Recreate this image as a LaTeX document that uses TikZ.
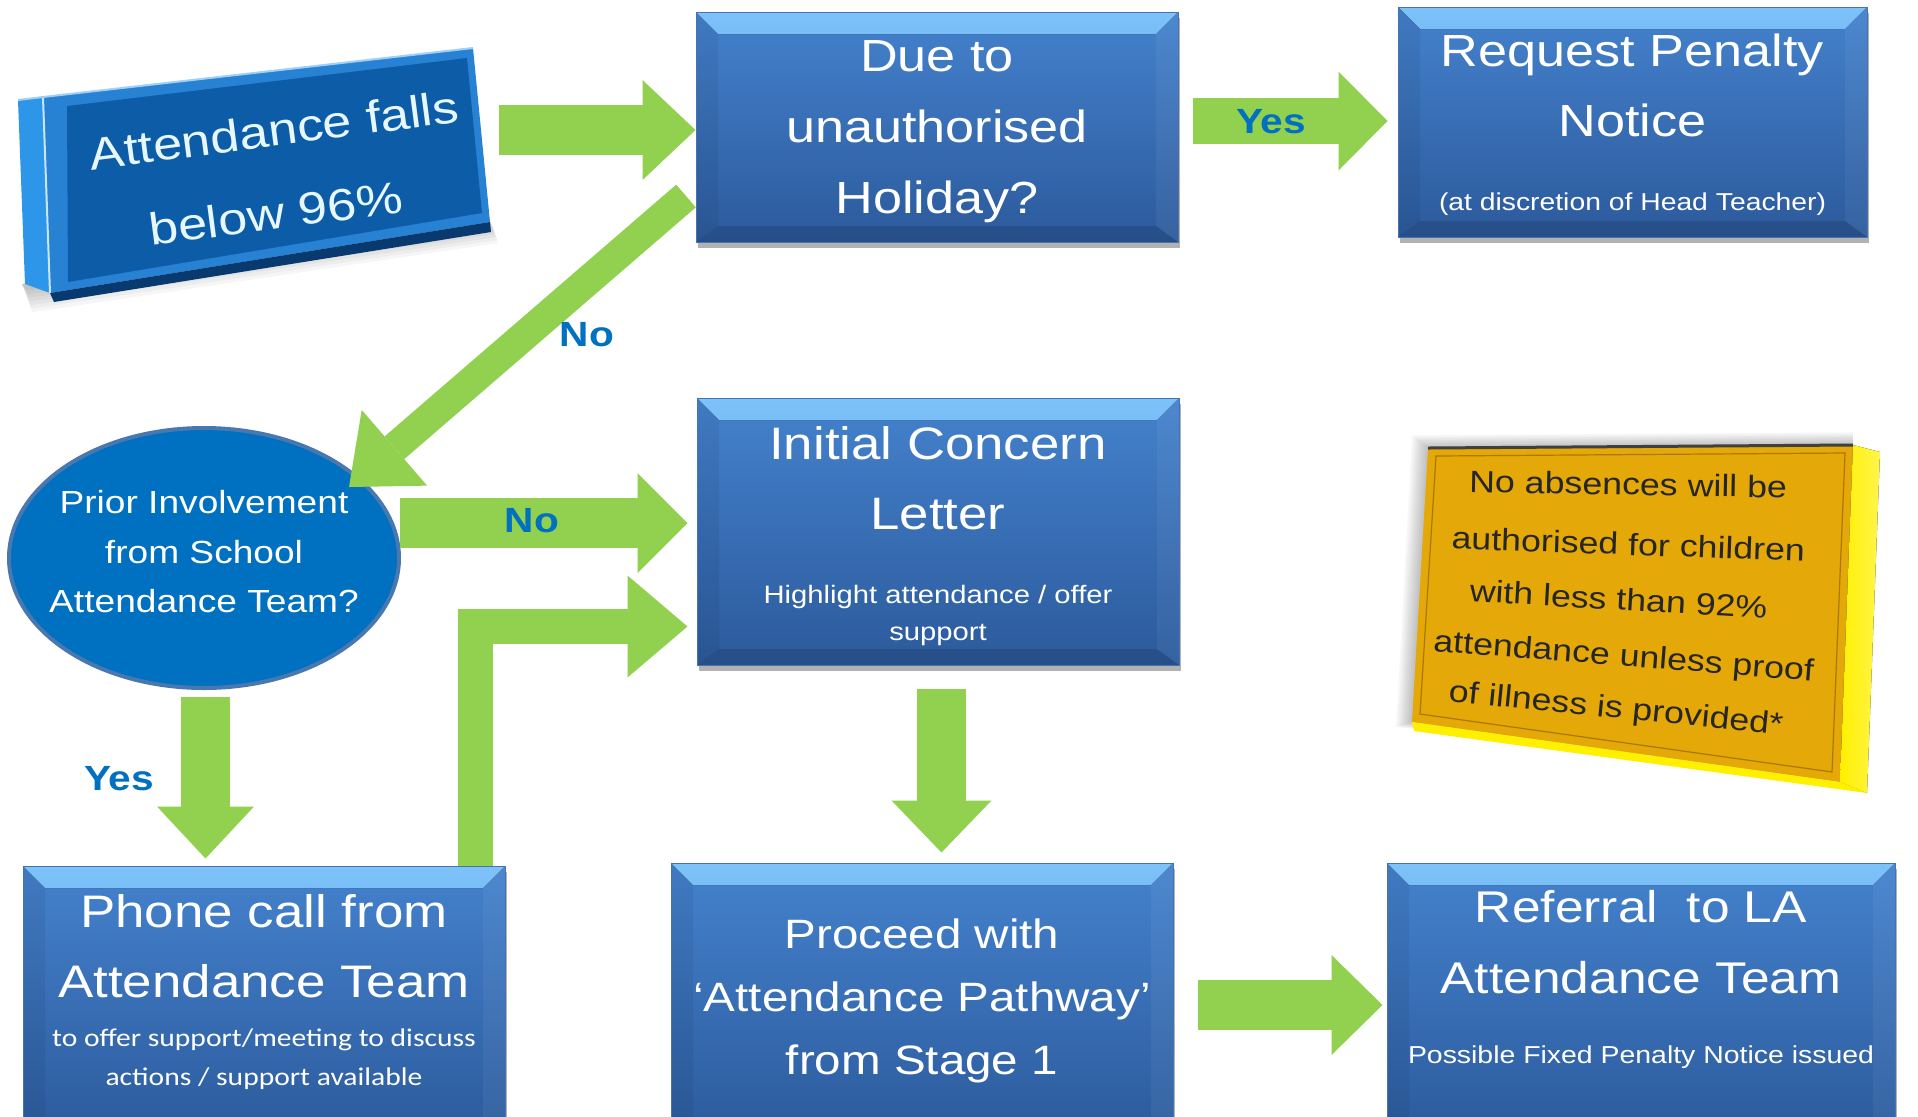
\documentclass[tikz,border=0pt]{standalone}
\usepackage{fontspec}
\setmainfont{Liberation Sans}[FakeStretch=1.16]
\newfontfamily\carl{Carlito}[FakeStretch=1.16]
\usetikzlibrary{shadows,arrows.meta,calc,shapes.geometric}
\definecolor{grn}{RGB}{146,208,80}
\definecolor{bxtop}{RGB}{68,130,205}
\definecolor{bxbot}{RGB}{44,90,156}
\definecolor{bvtop}{RGB}{125,195,250}
\definecolor{bxedge}{RGB}{70,115,175}
\definecolor{lbl}{RGB}{0,112,192}
\definecolor{ellfill}{RGB}{0,112,192}
\definecolor{elledge}{RGB}{72,120,175}
\definecolor{ylwface}{RGB}{228,168,8}
\definecolor{ylwside}{RGB}{255,240,0}
\definecolor{ylwline}{RGB}{170,120,0}
\definecolor{atface}{RGB}{12,92,168}
\definecolor{atrim}{RGB}{40,130,212}
\definecolor{atside}{RGB}{45,150,232}
\definecolor{atdark}{RGB}{8,58,112}
\begin{document}
\begin{tikzpicture}[x=0.5pt,y=-0.5pt,
  bluebox/.style={rectangle, inner sep=0pt, top color=bxtop, bottom color=bxbot,
    draw=bxedge, line width=0.5pt,
    drop shadow={shadow xshift=1pt, shadow yshift=-3pt, opacity=0.3, fill=black},
    path picture={
      \fill[top color=bvtop, bottom color=bxtop!90!bvtop]
        (path picture bounding box.north west) -- (path picture bounding box.north east)
        -- ([shift={(-11pt,-11pt)}]path picture bounding box.north east)
        -- ([shift={(11pt,-11pt)}]path picture bounding box.north west) -- cycle;
      \fill[black,opacity=0.06]
        (path picture bounding box.north west) -- ([shift={(11pt,-11pt)}]path picture bounding box.north west)
        -- ([shift={(11pt,8pt)}]path picture bounding box.south west) -- (path picture bounding box.south west) -- cycle;
      \fill[white,opacity=0.05]
        (path picture bounding box.north east) -- ([shift={(-11pt,-11pt)}]path picture bounding box.north east)
        -- ([shift={(-11pt,8pt)}]path picture bounding box.south east) -- (path picture bounding box.south east) -- cycle;
      \fill[black,opacity=0.12]
        (path picture bounding box.south west) -- ([shift={(11pt,8pt)}]path picture bounding box.south west)
        -- ([shift={(-11pt,8pt)}]path picture bounding box.south east) -- (path picture bounding box.south east) -- cycle;
    }},
  bigtxt/.style={font=\fontsize{22.5pt}{35.5pt}\selectfont, text=white, align=center, inner sep=0pt},
  smalltxt/.style={font=\fontsize{12.6pt}{18.5pt}\selectfont, text=white, align=center, inner sep=0pt},
  elltxt/.style={font=\fontsize{16pt}{24.75pt}\selectfont, text=white, align=center, inner sep=0pt},
  attxt/.style={font=\fontsize{22.5pt}{30pt}\selectfont, text=white!90!cyan, inner sep=0pt, anchor=base},
  ylwtxt/.style={font=\fontsize{15.4pt}{18pt}\selectfont, text=black!85, inner sep=0pt, anchor=base},
  lab/.style={font=\bfseries\fontsize{17.5pt}{20pt}\selectfont, text=lbl, inner sep=0pt},
  fat/.style n args={3}{draw=grn, line width=#1, line join=miter,
    -{Triangle[length=#2,width=#3,line width=0pt]}}
]
\useasboundingbox (0,0) rectangle (1918,1116);
\clip (0,0) rectangle (1918,1116);
\fill[white] (0,0) rectangle (1918,1116);

% ---- tilted start block
\foreach \s in {3,6,...,21} {
  \fill[black,opacity=0.035] (22,284) -- (490,222) -- (492+\s*0.3,222+\s) -- (26+\s*0.3,287+\s*1.2) -- cycle;
}
\fill[atside] (18,100) -- (43,97) -- (50,293) -- (25,284) -- cycle;
\fill[atrim] (43,97) -- (473,48) -- (490,222) -- (50,293) -- cycle;
\fill[atdark] (50,293) -- (490,222) -- (491,232) -- (54,302) -- cycle;
\fill[atface] (67,106) -- (467,58) -- (482,213) -- (68,282) -- cycle;
\draw[white!75!atside, line width=1pt] (43,97) -- (50,293);
\draw[white!55!atside, line width=1pt] (18,100) -- (43,97) -- (473,48);
\node[attxt, rotate=7.5] (att1) at (276,146) {Attendance falls};
\node[attxt, rotate=7.5] (att2) at (278,229) {below 96\%};

% ---- yellow note
\foreach \s in {2,4,...,16} {
  \fill[black,opacity=0.03] (1428-\s,448-\s*0.8) -- (1853,445-\s*0.8) -- (1840,782) -- (1412-\s,722+\s*0.3) -- cycle;
}
\fill[ylwface] (1428,448) -- (1853,445) -- (1840,782) -- (1412,722) -- cycle;
\draw[ylwline, line width=0.6pt] (1436,456) -- (1845,453) -- (1832,772) -- (1420,714) -- cycle;
\fill[right color=ylwside!70!white, left color=ylwside] (1853,445) -- (1880,452) -- (1867,793) -- (1840,782) -- cycle;
\fill[ylwside] (1412,722) -- (1840,782) -- (1867,793) -- (1414,731) -- cycle;
\draw[black!75, line width=1.5pt] (1428,448) -- (1853,445);
\node[ylwtxt, rotate=-1] (y1) at (1628,495) {No absences will be};
\node[ylwtxt, rotate=-2] (y2) at (1628,555) {authorised for children};
\node[ylwtxt, rotate=-3.3] (y3) at (1618,610) {with less than 92\%};
\node[ylwtxt, rotate=-4.5] (y4) at (1623,666) {attendance unless proof};
\node[ylwtxt, rotate=-5.7] (y5) at (1615,718) {of illness is provided*};

% ---- blue boxes
\node[bluebox, minimum width=241pt, minimum height=115pt] (due) at (937,127) {};
\node[bluebox, minimum width=234.5pt, minimum height=115pt] (req) at (1632.5,122) {};
\node[bluebox, minimum width=241pt, minimum height=133.5pt] (ini) at (938,531.5) {};
\node[bluebox, minimum width=241pt, minimum height=137pt] (pho) at (264,1003) {};
\node[bluebox, minimum width=251pt, minimum height=138.5pt] (pro) at (922,1001.5) {};
\node[bluebox, minimum width=254pt, minimum height=138.5pt] (ref) at (1641,1001.5) {};
\node[ellipse, minimum width=195pt, minimum height=130pt, fill=ellfill, draw=elledge, line width=2pt, inner sep=0pt] (ell) at (204,558) {};

% ---- texts
\node[bigtxt, anchor=north] (due-t) at (937,40) {Due to\\unauthorised\\Holiday?};
\node[bigtxt, anchor=north, font=\fontsize{22.5pt}{35pt}\selectfont] (req-t) at (1632.5,33) {Request Penalty\\Notice};
\node[smalltxt, anchor=base, font=\fontsize{12.2pt}{15pt}\selectfont] (req-s) at (1632.5,210) {(at discretion of Head Teacher)};
\node[bigtxt, anchor=north, font=\fontsize{22.75pt}{35pt}\selectfont] (ini-t) at (938,426) {Initial Concern\\Letter};
\node[smalltxt, anchor=north] (ini-s) at (938,585) {Highlight attendance / offer\\support};
\node[elltxt, anchor=north] (ell-t) at (204,490) {Prior Involvement\\from School\\Attendance Team?};
\node[bigtxt, anchor=north, font=\fontsize{22.8pt}{35pt}\selectfont] (pho-t) at (264,894) {Phone call from\\Attendance Team};
\node[smalltxt, anchor=north, font=\carl\fontsize{12.75pt}{19.5pt}\selectfont] (pho-s) at (264,1028) {to offer support/meeting to discuss\\actions / support available};
\node[bigtxt, anchor=north, font=\fontsize{20.5pt}{31.5pt}\selectfont] (pro-t) at (922,918) {Proceed with\\‘Attendance Pathway’\\from Stage 1};
\node[bigtxt, anchor=north, font=\fontsize{22.2pt}{35.5pt}\selectfont] (ref-t) at (1641,890) {Referral\ \ to LA\\Attendance Team};
\node[smalltxt, anchor=base, font=\fontsize{12.25pt}{15pt}\selectfont] (ref-s) at (1641,1063) {Possible Fixed Penalty Notice issued};

% ---- green arrows
\coordinate (s1) at (499,130);
\draw[fat={25pt}{26.5pt}{50pt}] (s1) -- (s1 -| due.west);
\coordinate (s2) at (1193,121);
\draw[fat={23pt}{24.5pt}{49.5pt}] (s2) -- ($(s2 -| req.west)+(-10,0)$);
\coordinate (s3) at (686,196);
\coordinate (t3) at (349,487);
\draw[fat={15pt}{30pt}{50pt}] (s3) -- (t3);
\coordinate (s4) at (400,523);
\draw[fat={25pt}{25pt}{50pt}] (s4) -- ($(s4 -| ini.west)+(-9,0)$);
\coordinate (c5) at (475.5,626.5);
\coordinate (s5) at (c5 |- pho.north);
\draw[fat={17.5pt}{30pt}{51pt}] (s5) -- (c5) -- ($(c5 -| ini.west)+(-9,0)$);
\coordinate (s6) at (205.5,697);
\draw[fat={24.5pt}{26pt}{48.5pt}] (s6) -- ($(s6 |- pho.north)+(0,-7)$);
\coordinate (s7) at (941.5,689);
\draw[fat={24.5pt}{26pt}{50pt}] (s7) -- ($(s7 |- pro.north)+(0,-10)$);
\coordinate (s8) at (1198,1005);
\draw[fat={25pt}{25.5pt}{50pt}] (s8) -- ($(s8 -| ref.west)+(-4,0)$);

% ---- labels
\node[lab] (yes1) at (1271,122) {Yes};
\node[lab] (no1) at (587,335) {No};
\node[lab] (no2) at (532,521) {No};
\node[lab] (yes2) at (119,779) {Yes};
\end{tikzpicture}
\end{document}
